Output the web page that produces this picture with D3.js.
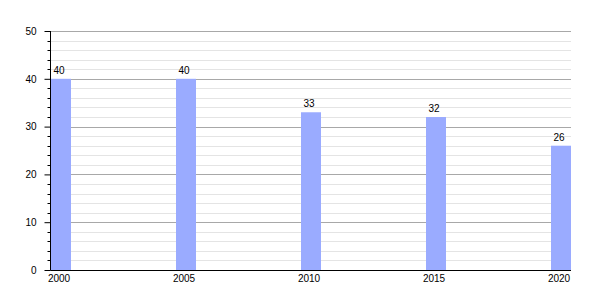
<!DOCTYPE html>
<html><head><meta charset="utf-8">
<script src="https://cdn.jsdelivr.net/npm/d3@7"></script>
<style>body{margin:0;background:#fff}svg{display:block}text{font-family:"Liberation Sans",Arial,sans-serif;font-size:10px;fill:#000}</style>
</head><body>
<svg id="c" width="600" height="300"></svg>
<script>
const years = [2000, 2005, 2010, 2015, 2020];
const values = [40, 40, 33, 32, 26];
const yMajorTicks = [0, 10, 20, 30, 40, 50];

const svg = d3.select("#c");
const plotL = 50.5, plotR = 571, plotT = 31, plotB = 270;
const barW = 20;
const x = d3.scaleLinear().domain([2000, 2020]).range([51, plotR - barW]);
const y = d3.scaleLinear().domain([0, 50]).range([plotB, plotT]);

const minor = d3.range(0, 51, 2).filter(v => v % 10 !== 0);
svg.append("g").selectAll("line").data(minor).join("line")
  .attr("x1", plotL).attr("x2", plotR)
  .attr("y1", d => Math.round(y(d)) + 0.5).attr("y2", d => Math.round(y(d)) + 0.5)
  .attr("stroke", "#e4e4e4").attr("stroke-width", 1);
svg.append("g").selectAll("line").data(yMajorTicks.filter(d => d > 0)).join("line")
  .attr("x1", plotL).attr("x2", plotR)
  .attr("y1", d => Math.round(y(d)) + 0.5).attr("y2", d => Math.round(y(d)) + 0.5)
  .attr("stroke", "#a8a8a8").attr("stroke-width", 1);

svg.append("g").selectAll("rect").data(years).join("rect")
  .attr("x", d => x(d)).attr("width", barW)
  .attr("y", (d, i) => y(values[i])).attr("height", (d, i) => plotB - y(values[i]))
  .attr("fill", "#9aabff");

svg.append("g").selectAll("text").data(years).join("text")
  .attr("x", d => x(d) + 8).attr("y", (d, i) => y(values[i]) - 5)
  .attr("text-anchor", "middle").text((d, i) => values[i]);

// y axis
const yAxis = d3.axisLeft(y).tickValues(yMajorTicks).tickSize(6).tickPadding(8).tickFormat(d3.format("d"));
const gy = svg.append("g").attr("transform", `translate(${plotL},0)`).call(yAxis);
gy.select(".domain").remove();
gy.selectAll(".tick line").attr("stroke", "#000");
gy.selectAll(".tick text").attr("font-size", 10).attr("font-family", '"Liberation Sans",Arial,sans-serif').attr("fill", "#000");
svg.append("g").selectAll("line").data(minor).join("line")
  .attr("x1", plotL - 3).attr("x2", plotL)
  .attr("y1", d => Math.round(y(d)) + 0.5).attr("y2", d => Math.round(y(d)) + 0.5)
  .attr("stroke", "#000");
svg.append("line").attr("x1", plotL).attr("x2", plotL).attr("y1", plotT).attr("y2", plotB + 0.5).attr("stroke", "#000");
svg.append("line").attr("x1", plotL).attr("x2", plotR).attr("y1", plotB + 0.5).attr("y2", plotB + 0.5).attr("stroke", "#000");

// x labels
svg.append("g").selectAll("text").data(years).join("text")
  .attr("x", d => x(d) + 8).attr("y", 282)
  .attr("text-anchor", "middle").text(d => d);
</script>
</body></html>
